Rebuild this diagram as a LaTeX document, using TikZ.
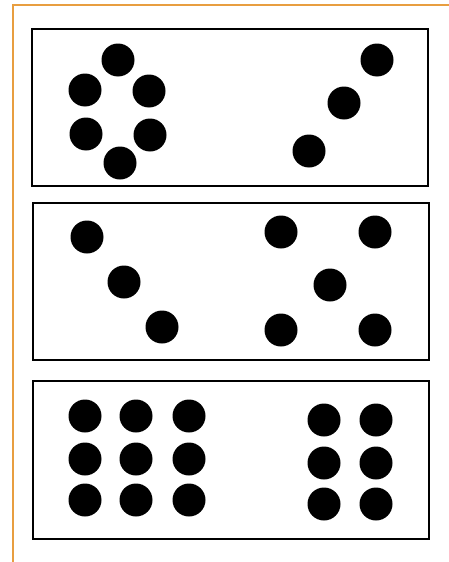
\documentclass[tikz,border=0pt]{standalone}
\usepackage{tikz}
\definecolor{myorange}{rgb}{0.91,0.62,0.25}

\begin{document}
\begin{tikzpicture}[x=1pt,y=-1pt]
  \useasboundingbox (0,0) rectangle (449,562);
  \draw[myorange,line width=2pt] (13,562) -- (13,5) -- (449,5);
  % three panels
  \draw[line width=1.5pt] (32,29) rectangle (428,186);
  \draw[line width=1.5pt] (33,203) rectangle (429,360);
  \draw[line width=1.5pt] (33,381) rectangle (429,539);
  % first panel
  \foreach \dx/\dy in {118/60,85/90,149/91,86/134,150/135,120/163,377/60,344/103,309/151}
    \fill (\dx,\dy) circle (16.5);
  % second panel
  \foreach \dx/\dy in {87/237,124/282,162/327,281/232,375/232,330/285,281/330,375/330}
    \fill (\dx,\dy) circle (16.5);
  % third panel
  \foreach \dx in {85,136,189}
    \foreach \dy in {416,459,500}
      \fill (\dx,\dy) circle (16.5);
  \foreach \dx in {324,376}
    \foreach \dy in {420,463,504}
      \fill (\dx,\dy) circle (16.5);
\end{tikzpicture}
\end{document}
